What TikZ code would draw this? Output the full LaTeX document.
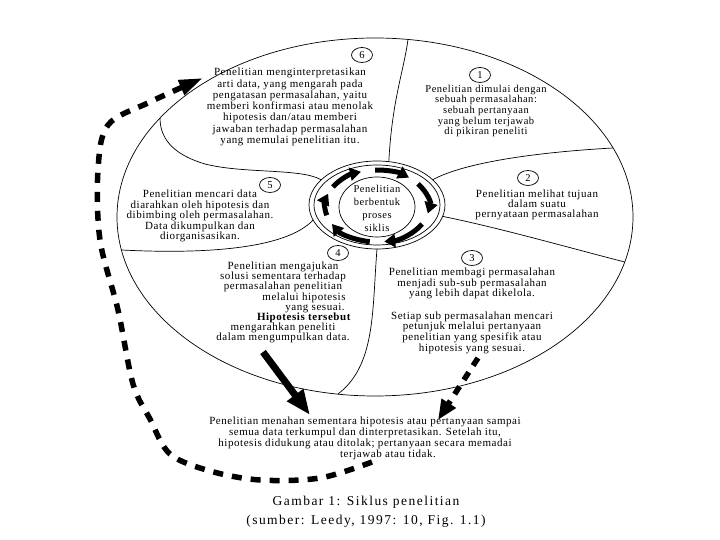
\documentclass[tikz,border=0pt]{standalone}
\usepackage{fontspec}
\setmainfont{Liberation Serif}[LetterSpace=5]
\usetikzlibrary{arrows.meta,shapes.geometric}
\begin{document}
\begin{tikzpicture}[x=1pt,y=1pt,
  txt/.style={align=center,inner sep=0pt,font=\fontsize{11}{10.5}\selectfont},
  num/.style={ellipse,draw,line width=0.7pt,minimum width=21pt,minimum height=15pt,inner sep=0pt,font=\fontsize{10.5}{10}\selectfont},
  border/.style={line width=0.7pt},
  ringarrow/.style={line width=5pt,-{Triangle[length=11pt,width=13pt]}},
  bigarrow/.style={line width=7pt,-{Triangle[length=25pt,width=19pt]}},
  dasharrow/.style={line width=5.5pt,dash pattern=on 9pt off 8pt,-{Triangle[length=20pt,width=16pt]}},
  loopdash/.style={line width=5.5pt,dash pattern=on 10pt off 9pt,-{Triangle[length=24pt,width=15pt]}},
]
\useasboundingbox (0,0) rectangle (720,540);
% outer ellipse
\draw[border] (375,323) ellipse [x radius=258, y radius=179];
% central ring
\draw[border] (377,335) ellipse [x radius=68, y radius=44];
\draw[border] (377,335) ellipse [x radius=63, y radius=40];
\node[draw,ellipse,border,minimum width=76pt,minimum height=60pt,inner sep=0pt] (core) at (377,333) {};
\node[txt,font=\fontsize{10.5}{13}\selectfont] (coretext) at (377,332) {Penelitian\\berbentuk\\proses\\siklis};
% ring arrows
\foreach \a/\b in {195/160,148/108,92/52,38/-12,-30/-82,-98/-150}
  \draw[ringarrow] ([shift={(377,334)}]\a:52 and 36) arc[start angle=\a,end angle=\b,x radius=52,y radius=36];
% region boundaries
\draw[border] ([shift={(377,335)}]80:68 and 44) .. controls (392,440) and (404,470) .. (408,500.5);
\draw[border] ([shift={(377,335)}]35:68 and 44) .. controls (465,378) and (540,388) .. (613,392);
\draw[border] ([shift={(377,335)}]-15:68 and 44) .. controls (500,312) and (570,292) .. (624.7,278);
\draw[border] ([shift={(377,335)}]-90:68 and 44) .. controls (372,230) and (376,175) .. (338,146);
\draw[border] (121.4,290) .. controls (200,286) and (285,290) .. ([shift={(377,335)}]200:68 and 44);
\draw[border] (160,422) .. controls (160,398) and (178,384) .. (205,376) .. controls (245,366) and (300,372) .. ([shift={(377,335)}]145:68 and 44);
% numbers
\node[num] (n6) at (362,485) {6};
\node[num] (n1) at (480,465) {1};
\node[num] (n5) at (270,355) {5};
\node[num] (n2) at (528,362) {2};
\node[num] (n4) at (338,287) {4};
\node[num] (n3) at (472,282) {3};
% texts
\node[txt,font=\fontsize{11}{11.3}\selectfont] (t6) at (290,433) {Penelitian menginterpretasikan\\arti data, yang mengarah pada\\pengatasan permasalahan, yaitu\\memberi konfirmasi atau menolak\\hipotesis dan/atau memberi\\jawaban terhadap permasalahan\\yang memulai penelitian itu.};
\node[txt,font=\fontsize{10.5}{8.6}\selectfont] (t1) at (486,429) {Penelitian dimulai dengan\\sebuah permasalahan:\\sebuah pertanyaan\\yang belum terjawab\\di pikiran peneliti};
\node[txt,font=\fontsize{11}{10.5}\selectfont] (t5) at (200,324) {Penelitian mencari data\\diarahkan oleh hipotesis dan\\dibimbing oleh permasalahan.\\Data dikumpulkan dan\\diorganisasikan.};
\node[txt,font=\fontsize{11}{10}\selectfont] (t2) at (537,335) {Penelitian melihat tujuan\\dalam suatu\\pernyataan permasalahan};
\node[txt,font=\fontsize{11}{10.1}\selectfont] (t4) at (283,237.5) {Penelitian mengajukan\\solusi sementara terhadap\\permasalahan penelitian\\\hspace*{42pt}melalui hipotesis\\\hspace*{64pt}yang sesuai.\\\hspace*{42pt}\textbf{Hipotesis tersebut}\\mengarahkan peneliti\\dalam mengumpulkan data.};
\node[txt,font=\fontsize{11}{10}\selectfont] (t3) at (472,229) {Penelitian membagi permasalahan\\menjadi sub-sub permasalahan\\yang lebih dapat dikelola.\\[12pt]Setiap sub permasalahan mencari\\petunjuk melalui pertanyaan\\penelitian yang spesifik atau\\hipotesis yang sesuai.};
\node[txt,font=\fontsize{11}{8.7}\selectfont] (hold) at (365,102) {Penelitian menahan sementara hipotesis atau pertanyaan sampai\\semua data terkumpul dan dinterpretasikan. Setelah itu,\\hipotesis didukung atau ditolak; pertanyaan secara memadai\\\hspace*{46pt}terjawab atau tidak.};
\node[txt,font=\fontsize{13.5}{19}\selectfont\addfontfeatures{LetterSpace=11}] (cap) at (366,28.5) {Gambar 1: Siklus penelitian\\(sumber: Leedy, 1997: 10, Fig. 1.1)};
% connectors
\coordinate (s4) at (263,188); \coordinate (e4) at (310,125);
\draw[bigarrow] (s4) -- (e4);
\coordinate (s3) at (478,182); \coordinate (e3) at (438,120);
\draw[dasharrow] (s3) -- (e3);
\draw[loopdash] plot[smooth,tension=0.55] coordinates {(372,78) (320,62) (260,60) (210,69) (170,86) (150,121) (133,156) (118,230) (100,300) (98,370) (108,415) (150,438) (203,462)};
\end{tikzpicture}
\end{document}
